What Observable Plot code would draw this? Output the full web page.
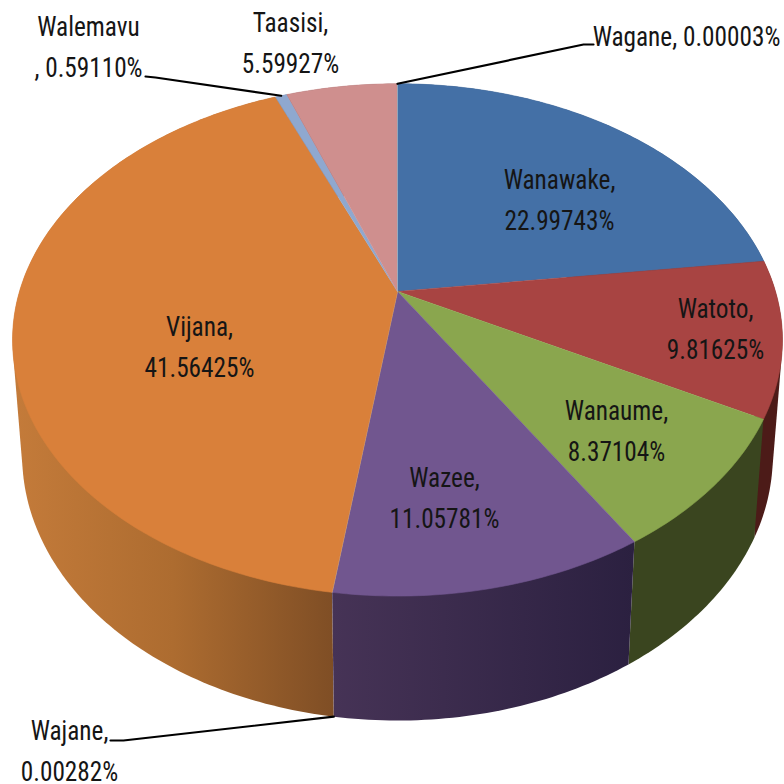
<!DOCTYPE html>
<html>
<head>
<meta charset="utf-8">
<style>html,body{margin:0;padding:0;background:#fff}svg{display:block}</style>
<script src="https://cdn.jsdelivr.net/npm/d3@7"></script>
<script src="https://cdn.jsdelivr.net/npm/@observablehq/plot@0.6"></script>
</head>
<body>
<div id="chart"></div>
<script>
// Data, clockwise from twelve o'clock
const categories = ["Wanawake","Watoto","Wanaume","Wazee","Wajane","Vijana","Walemavu","Taasisi","Wagane"];
const shares = [22.99743,9.81625,8.37104,11.05781,0.00282,41.56425,0.5911,5.59927,0.00003];

// Colours of top faces and walls
const topColors = {Wanawake:"#4470A6",Watoto:"#A84442",Wanaume:"#8AA64E",Wazee:"#71568F",Wajane:"#A0B4D0",Vijana:"#D9803A",Walemavu:"#8FA8CF",Taasisi:"#CF8F8E",Wagane:"#9AC0CF"};
const wallColors = {Wanawake:"#2A4566",Watoto:"#4C1B18",Wanaume:"#3A451F",Wazee:"url(#wazeeWall)",Vijana:"url(#vijanaWall)",Walemavu:"#556",Taasisi:"#7a5050"};

// Perspective camera of the tilted disc
const cam = {cx:397, cyTop:291, cyBottom:405, C:378, Btop:247, Bbottom:255.5, k:0.189, sBottom:0.975};
const rad = p => p / 100 * 2 * Math.PI;
const rim = (p, ring) => {
  const t = rad(p), c = Math.cos(t), s = Math.sin(t), w = 1 + cam.k * c;
  return ring === "top"
    ? [cam.cx + cam.C * s / w, cam.cyTop - cam.Btop * c / w]
    : [cam.cx + cam.sBottom * cam.C * s / w, cam.cyBottom - cam.Bbottom * c / w];
};

// Slices from cumulative shares
let acc = 0;
const slices = categories.map((name, i) => {
  const start = acc; acc += shares[i];
  return {name, value: shares[i], start, end: acc};
});
const arcSamples = (a, b) => {
  const n = Math.max(1, Math.ceil((b - a) / 0.25));
  return d3.range(n + 1).map(i => a + (b - a) * i / n);
};
const topFaces = slices.flatMap(s => [
  {name: s.name, p: [cam.cx, cam.cyTop]},
  ...arcSamples(s.start, s.end).map(q => ({name: s.name, p: rim(q, "top")}))
]);
const wallOrder = ["Wanawake","Taasisi","Walemavu","Vijana","Watoto","Wanaume","Wazee"];
const walls = wallOrder.flatMap(n => {
  const s = slices.find(d => d.name === n);
  const q = arcSamples(s.start, s.end);
  const hull = d3.polygonHull([...q.map(v => rim(v, "top")), ...q.map(v => rim(v, "bottom"))]);
  return hull.map(p => ({name: n, p}));
});

// Labels and leaders
const fmt = v => v.toFixed(5) + "%";
const labelText = {
  Wanawake:"Wanawake,\n", Watoto:"Watoto,\n", Wanaume:"Wanaume,\n", Wazee:"Wazee,\n", Vijana:"Vijana,\n",
  Taasisi:"Taasisi,\n", Walemavu:"Walemavu\n, ", Wajane:"Wajane,\n", Wagane:"Wagane, "
};
const labelAt = {
  Wanawake:[559,196], Watoto:[715,325], Wanaume:[616,427], Wazee:[444,494], Vijana:[199,343],
  Taasisi:[290,39], Walemavu:[88,43], Wajane:[69,747], Wagane:[686,33]
};
const labels = slices.filter(s => labelAt[s.name]).map(s => ({
  text: labelText[s.name] + fmt(s.value), x: labelAt[s.name][0], y: labelAt[s.name][1]
}));
const leaderElbows = {Wagane:[[583,44],[593,44]], Walemavu:[[155,77],[145,76]], Wajane:[[123,740],[110,740]]};
const leaders = Object.entries(leaderElbows).flatMap(([n, pts]) => {
  const s = slices.find(d => d.name === n);
  return [rim((s.start + s.end) / 2, "top"), ...pts].map(p => ({name: n, p}));
});
// The Wajane leader hangs from the wall foot, not the top rim
leaders.filter(d => d.name === "Wajane")[0].p = rim(slices.find(d => d.name === "Wajane").start, "bottom");

const gradient = (id, stops) =>
  `<linearGradient id="${id}" x1="0" y1="0" x2="1" y2="0">${stops.map(([o, c]) => `<stop offset="${o}" stop-color="${c}"/>`).join("")}</linearGradient>`;
const defs = () => {
  const g = document.createElementNS("http://www.w3.org/2000/svg", "defs");
  g.innerHTML = gradient("vijanaWall", [[0,"#C47B3A"],[0.5,"#AD6C30"],[1,"#7F4E25"]]) +
                gradient("wazeeWall", [[0,"#463356"],[1,"#2B2040"]]);
  return g;
};

const chart = Plot.plot({
  width: 784, height: 784,
  margin: 0,
  x: {type: "identity", axis: null},
  y: {type: "identity", axis: null},
  style: {background: "#fff"},
  marks: [
    defs,
    Plot.line(walls, {x: d => d.p[0], y: d => d.p[1], z: "name", fill: d => wallColors[d.name], stroke: "none", curve: "linear"}),
    Plot.line(topFaces, {x: d => d.p[0], y: d => d.p[1], z: "name", fill: d => topColors[d.name], stroke: d => topColors[d.name], strokeWidth: 0.6, curve: "linear"}),
    Plot.line(leaders, {x: d => d.p[0], y: d => d.p[1], z: "name", stroke: "#000", strokeWidth: 2.2, curve: "linear"}),
    Plot.text(labels, {x: "x", y: "y", text: "text", fill: "#151515", fontSize: 27, lineHeight: 1.5, textAnchor: "middle", fontFamily: "'Liberation Sans Narrow','Roboto Condensed','Liberation Sans',sans-serif"})
  ]
});
document.getElementById("chart").appendChild(chart);

// Narrow the glyphs slightly: the reference text is a tighter face
chart.querySelectorAll("text").forEach(t => {
  const lines = t.querySelectorAll("tspan");
  (lines.length ? [...lines] : [t]).forEach(el => {
    el.setAttribute("textLength", (el.getComputedTextLength() * 0.935).toFixed(1));
    el.setAttribute("lengthAdjust", "spacingAndGlyphs");
  });
});
</script>
</body>
</html>
